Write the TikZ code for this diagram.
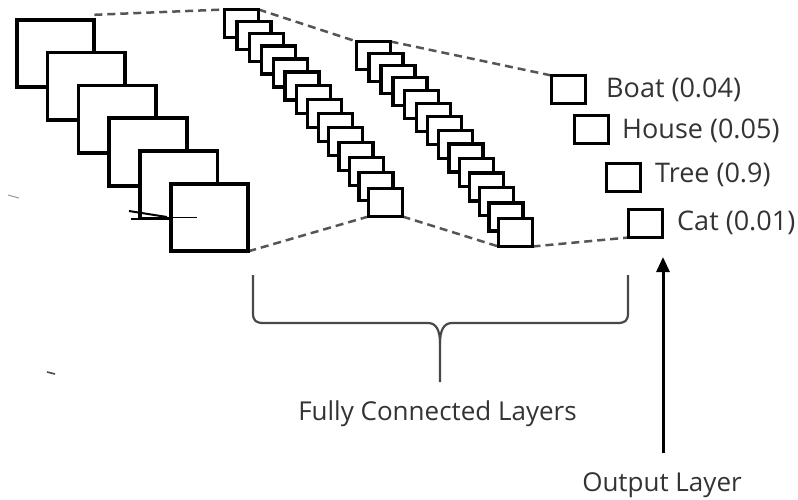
\documentclass[tikz,border=0pt]{standalone}
\usepackage{fontspec}
\setmainfont{Open Sans}
\usetikzlibrary{arrows.meta,backgrounds}
\definecolor{txt}{HTML}{333333}
\definecolor{dashc}{HTML}{555555}
\definecolor{bracec}{HTML}{484848}

\begin{document}
\begin{tikzpicture}[x=1pt,y=-1pt,
  frame/.style={draw=black, fill=white, line width=3.7pt, minimum width=77.5pt,
    minimum height=67.5pt, inner sep=0pt, outer sep=0pt, anchor=north west},
  cell/.style={draw=black, fill=white, line width=3.3pt, minimum width=34pt,
    minimum height=28pt, inner sep=0pt, outer sep=0pt, anchor=north west},
  conn/.style={draw=dashc, line width=2.5pt, dash pattern=on 8pt off 5pt},
  lbl/.style={text=txt, font=\fontsize{26}{31}\selectfont, inner sep=0pt},
  outlbls/.style={lbl, font=\fontsize{27}{32}\selectfont, anchor=base west},
  bracepath/.style={draw=bracec, line width=2.2pt, line join=round}]

\useasboundingbox (0,0) rectangle (798,499);

% stacked feature maps
\foreach \i in {0,...,5}
  \node[frame] (f\i) at ({16.8+30.8*\i},{19.8+32.8*\i}) {};

% scribbled pointer on the last feature map
\draw[black, line width=2pt] (129,211) -- (167,217);
\draw[black, line width=2.2pt] (131,219) -- (167,219);
\draw[black, line width=1pt] (165,217) -- (197,217);

% first fully connected layer
\foreach \i in {0,...,13}{
  \pgfmathsetmacro\t{\i/13}
  \pgfmathsetmacro\bx{224.5+144*(1.15*\t-0.15*\t*\t)}
  \pgfmathsetmacro\by{9.5+179*(0.85*\t+0.15*\t*\t)}
  \node[cell] (a\i) at (\bx,\by) {};
}

% second fully connected layer
\foreach \i in {0,...,13}{
  \pgfmathsetmacro\t{\i/13}
  \pgfmathsetmacro\bx{356.5+142*(1.15*\t-0.15*\t*\t)}
  \pgfmathsetmacro\by{41.5+177*(0.85*\t+0.15*\t*\t)}
  \node[cell] (b\i) at (\bx,\by) {};
}

% output layer
\node[cell] (boat)  at (551.5,75.5)  {};
\node[cell] (house) at (574.5,115.5) {};
\node[cell] (tree)  at (606.5,163.5) {};
\node[cell] (cat)   at (628.5,209.5) {};

\node[outlbls] (boatlbl)  at (606,97)  {Boat (0.04)};
\node[outlbls] (houselbl) at (622,138) {House (0.05)};
\node[outlbls] (treelbl)  at (655,182) {Tree (0.9)};
\node[outlbls] (catlbl)   at (677,230) {Cat (0.01)};

% dashed links between layers
\begin{scope}[on background layer]
  \draw[conn] ([yshift=5pt]f0.north east) -- (a0.north west);
  \draw[conn] (f5.south east) -- (a13.south west);
  \draw[conn] (a0.north east) -- (b0.north west);
  \draw[conn] (a13.south east) -- (b13.south west);
  \draw[conn] (b0.north east) -- (boat.north west);
  \draw[conn] (b13.south east) -- (cat.south west);
\end{scope}

% brace under the fully connected layers
\draw[bracepath] (253,275) -- (253,313) .. controls (253,321) and (256,323) .. (264,323)
  -- (428,323) .. controls (436,323) and (440,330) .. (440,343) -- (440,382);
\draw[bracepath] (440,343) .. controls (440,330) and (444,323) .. (452,323)
  -- (617,323) .. controls (625,323) and (628,321) .. (628,313) -- (628,275);

\node[lbl, anchor=base] (fclbl) at (437.5,420) {Fully Connected Layers};
\node[lbl, anchor=base] (outlbl) at (662,491) {Output Layer};

% arrow pointing at the output layer
\coordinate (outtip) at (663,257);
\draw[black, line width=3pt, -{Triangle[length=15pt,width=13pt]}]
  (outlbl.north -| outtip) ++(0,-19) -- (outtip);

% stray marks
\draw[black!40, line width=1pt] (8,195) -- (19,198);
\draw[black!70, line width=1.6pt] (47,372) -- (55,374);
\end{tikzpicture}
\end{document}
